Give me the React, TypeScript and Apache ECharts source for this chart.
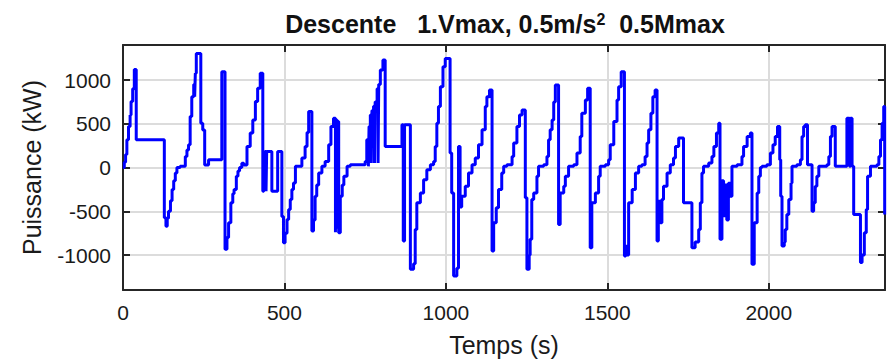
import React, { useEffect, useRef } from 'react';
import * as echarts from 'echarts';

// Time (s) at which each power level starts (step signal)
const timeS = [
  0, 4, 8, 12, 17, 22, 25, 30, 35, 41, 128, 133, 137, 141, 147, 152, 157, 162, 167, 177,
  193, 198, 203, 208, 213, 219, 222, 224, 227, 241, 247, 253, 265, 306, 316, 322, 327, 334, 340, 344,
  351, 356, 361, 368, 374, 384, 394, 402, 410, 417, 425, 433, 436, 438, 440, 443, 445, 461, 479, 492,
  497, 502, 508, 513, 518, 523, 528, 534, 554, 564, 570, 575, 585, 590, 595, 600, 606, 616, 626, 637,
  644, 652, 658, 660, 663, 665, 668, 673, 679, 684, 694, 704, 750, 755, 760, 762, 766, 769, 771, 776,
  779, 781, 787, 790, 792, 797, 805, 812, 864, 868, 872, 890, 900, 905, 910, 921, 931, 941, 952, 962,
  967, 972, 977, 983, 991, 998, 1013, 1018, 1024, 1034, 1039, 1044, 1049, 1060, 1070, 1081, 1091, 1101, 1112, 1122,
  1127, 1135, 1143, 1148, 1156, 1163, 1173, 1179, 1189, 1205, 1210, 1220, 1228, 1236, 1246, 1251, 1258, 1261, 1266, 1272,
  1282, 1287, 1303, 1313, 1318, 1323, 1329, 1334, 1339, 1349, 1354, 1365, 1370, 1380, 1396, 1406, 1416, 1421, 1432, 1439,
  1447, 1452, 1463, 1473, 1478, 1494, 1504, 1509, 1520, 1530, 1535, 1543, 1553, 1557, 1561, 1566, 1577, 1587, 1597, 1607,
  1617, 1623, 1628, 1635, 1641, 1648, 1654, 1658, 1664, 1669, 1674, 1685, 1695, 1705, 1711, 1721, 1736, 1762, 1772, 1783,
  1788, 1793, 1798, 1814, 1824, 1830, 1838, 1845, 1849, 1855, 1860, 1865, 1870, 1875, 1881, 1886, 1902, 1917, 1922, 1933,
  1943, 1948, 1955, 1964, 1969, 1974, 1979, 1994, 2005, 2013, 2020, 2027, 2034, 2037, 2041, 2048, 2051, 2056, 2062, 2069,
  2072, 2087, 2098, 2103, 2108, 2113, 2120, 2134, 2139, 2144, 2149, 2155, 2180, 2186, 2191, 2196, 2206, 2242, 2250, 2253,
  2258, 2263, 2284, 2289, 2296, 2302, 2306, 2315, 2335, 2341, 2346, 2351, 2356, 2359, 2360
];

// Power (kW)
const powerKW = [
  0, 60, 150, 317, 469, 600, 753, 900, 1121, 317, -575, -670, -580, -500, -380, -252, -150, -63, 0, 13,
  127, 200, 260, 582, 810, 950, 810, 1076, 1304, 506, 430, 30, 89, 1095, -935, -800, -632, -404, -300, -252,
  -101, -40, 0, 50, 30, 241, 393, 544, 753, 905, 1076, -271, 184, -271, 184, -271, 184, -271, 184, -560,
  -860, -750, -594, -480, -366, -250, -177, 13, 108, 241, 400, 640, -726, -600, -328, -200, -63, 13, 70, 260,
  469, 563, -740, 544, -700, 525, -745, -328, -200, -101, 13, 32, 70, 317, 13, 469, 600, 51, 650, 700,
  51, 750, 900, 51, 950, 1114, 1228, 241, 488, -840, 488, -1163, -1100, -708, -404, -290, -139, -25, 32, 70,
  241, 506, 696, 924, 1152, 1246, 165, -290, -1239, -1150, 241, -450, -328, -214, -63, 32, 108, 260, 431, 696,
  810, 886, -954, -632, -461, -252, -63, 13, 32, 127, 279, 469, 601, 658, -347, -1163, -1000, -821, -366, -290,
  -101, 13, 32, 127, 317, 431, 544, 750, 943, -651, -290, -214, -101, 13, 32, 165, 355, 620, 772, 905,
  -916, -404, -290, -101, 13, 32, 89, 260, 525, 772, 924, 1095, -1011, -900, -1000, -404, -252, -63, 13, 32,
  127, 279, 431, 620, 810, 886, -840, -385, -632, -366, -214, -63, 32, 108, 241, 336, -404, -916, -850, -708,
  -404, -63, 13, 51, 127, 241, 393, 506, -821, -150, -550, -200, -600, -180, -328, 13, 32, 127, 241, 355,
  393, -1106, -632, -290, -101, 0, 13, 32, 165, 260, 355, 469, 89, -328, -897, -850, -708, -537, -366, -177,
  13, 32, 89, 355, 469, 488, 32, -499, -404, -214, -101, 13, 32, 127, 355, 469, 13, 563, 13, 563,
  13, -537, -1087, -1000, -745, -480, -101, 13, 32, 127, 317, 506, 696, -537, -537
];

const xTickValues = [0, 500, 1000, 1500, 2000];
const yTickValues = [-1000, -500, 0, 500, 1000];
const xRange = [0, 2360];
const yRange = [-1400, 1400];

const titleText = 'Descente   1.Vmax, 0.5m/s{sup|2}  0.5Mmax';
const xName = 'Temps (s)';
const yName = 'Puissance (kW)';

export default function App() {
  const ref = useRef<HTMLDivElement>(null);

  useEffect(() => {
    document.body.style.margin = '0';
    const chart = echarts.init(ref.current!, null, { renderer: 'svg' });
    const data = timeS.map((t, i) => [t, powerKW[i]]);
    const frame = '#262626';
    const gridColor = '#dcdcdc';
    const font = "'Liberation Sans', Arial, Helvetica, sans-serif";

    const baseAxis = {
      axisLine: { show: true, onZero: false, lineStyle: { color: frame, width: 2 } },
      axisTick: { show: true, inside: true, length: 7, lineStyle: { color: frame, width: 2 } },
    };

    chart.setOption({
      animation: false,
      backgroundColor: '#ffffff',
      graphic: [
        {
          type: 'text',
          x: 505,
          y: 24,
          style: {
            text: titleText,
            textAlign: 'center',
            textVerticalAlign: 'middle',
            fill: '#111',
            font: `bold 25px ${font}`,
            rich: {
              sup: {
                fontSize: 16,
                fontWeight: 'bold',
                fontFamily: font,
                verticalAlign: 'top',
                fill: '#111',
              },
            },
          },
        },
      ],
      grid: { left: 123, right: 3, top: 45, bottom: 72 },
      xAxis: [
        {
          type: 'value',
          min: xRange[0],
          max: xRange[1],
          interval: 500,
          position: 'bottom',
          ...baseAxis,
          axisLabel: {
            show: true,
            margin: 12,
            color: '#1a1a1a',
            fontSize: 21,
            fontFamily: font,
            formatter: (v: number) => (xTickValues.includes(v) ? String(v) : ''),
          },
          splitLine: { show: true, lineStyle: { color: gridColor, width: 2 } },
          name: xName,
          nameLocation: 'middle',
          nameGap: 42,
          nameTextStyle: { fontSize: 25, color: '#1a1a1a', fontFamily: font },
        },
        {
          type: 'value',
          min: xRange[0],
          max: xRange[1],
          interval: 500,
          position: 'top',
          ...baseAxis,
          axisLabel: { show: false },
          splitLine: { show: false },
        },
      ],
      yAxis: [
        {
          type: 'value',
          min: yRange[0],
          max: yRange[1],
          position: 'left',
          ...baseAxis,
          axisLabel: {
            show: true,
            margin: 12,
            color: '#1a1a1a',
            fontSize: 21,
            fontFamily: font,
            formatter: (v: number) => (yTickValues.includes(v) ? String(v) : ''),
          },
          splitLine: { show: true, lineStyle: { color: gridColor, width: 2 } },
          name: yName,
          nameLocation: 'middle',
          nameGap: 79,
          nameTextStyle: { fontSize: 25, color: '#1a1a1a', fontFamily: font },
        },
        {
          type: 'value',
          min: yRange[0],
          max: yRange[1],
          position: 'right',
          ...baseAxis,
          axisLabel: { show: false },
          splitLine: { show: false },
        },
      ],
      series: [
        {
          type: 'line',
          xAxisIndex: 0,
          yAxisIndex: 0,
          data,
          step: 'end',
          showSymbol: false,
          symbol: 'none',
          lineStyle: { color: '#0000ff', width: 3 },
          clip: true,
        },
      ],
    });

    return () => chart.dispose();
  }, []);

  return (
    <div
      ref={ref}
      style={{ position: 'absolute', left: 0, top: 0, width: 888, height: 362 }}
    />
  );
}
